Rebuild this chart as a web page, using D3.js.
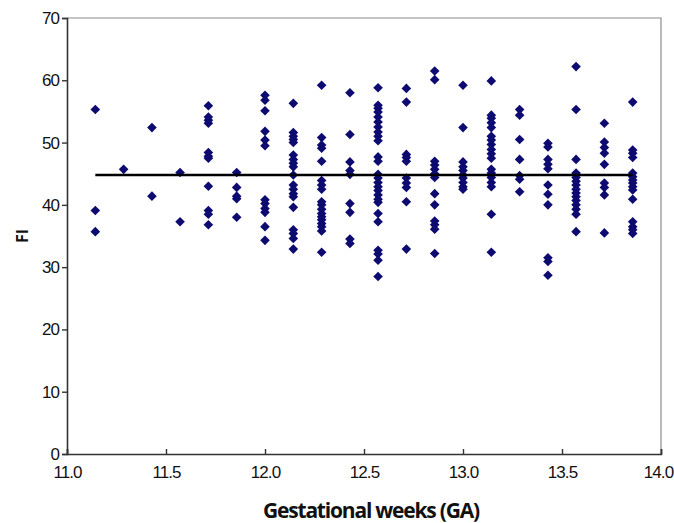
<!DOCTYPE html>
<html>
<head>
<meta charset="utf-8">
<script src="https://cdn.jsdelivr.net/npm/d3@7"></script>
<style>
  body { margin: 0; background: #fff; }
  svg text { font-family: "Liberation Sans", Arial, sans-serif; }
</style>
</head>
<body>
<div id="chart"></div>
<script>
// gestational age columns (weeks + days / 7)
var weeks = [11.143, 11.286, 11.429, 11.571, 11.714, 11.857, 12.0, 12.143, 12.286, 12.429,
             12.571, 12.714, 12.857, 13.0, 13.143, 13.286, 13.429, 13.571, 13.714, 13.857];

// FI values read per column
var fiValues = [
  [55.3, 39.1, 35.7],
  [45.7],
  [52.4, 41.4],
  [45.2, 37.3],
  [55.9, 54.1, 53.6, 53.1, 48.4, 47.8, 47.5, 43.0, 39.1, 38.5, 36.8],
  [45.2, 42.8, 41.4, 41.0, 38.0],
  [57.6, 56.8, 55.1, 51.8, 50.4, 49.5, 40.8, 40.2, 39.4, 38.8, 36.5, 34.3],
  [56.3, 51.6, 51.0, 50.5, 50.0, 48.0, 47.3, 46.7, 46.1, 44.8, 43.2, 42.5, 41.8, 41.3, 39.6, 36.0, 35.4, 34.6, 32.9],
  [59.2, 50.8, 49.6, 49.1, 47.0, 43.9, 43.2, 42.5, 40.5, 40.0, 39.3, 38.6, 38.1, 37.6, 37.0, 36.5, 35.8, 32.4],
  [58.0, 51.3, 46.9, 45.5, 44.9, 40.2, 38.8, 34.5, 33.8],
  [58.8, 56.0, 55.5, 54.9, 54.1, 53.3, 52.5, 51.7, 51.0, 50.3, 47.7, 47.0, 44.9, 44.3, 43.6, 42.9, 42.3, 41.6, 40.9, 40.4, 38.6, 37.3, 32.7, 32.1, 31.1, 28.5],
  [58.7, 56.5, 48.1, 47.6, 47.0, 44.3, 43.5, 42.8, 40.5, 32.9],
  [61.5, 60.1, 47.0, 46.4, 45.7, 45.0, 44.4, 41.8, 40.0, 37.4, 36.8, 36.1, 32.2],
  [59.2, 52.4, 46.9, 46.1, 45.5, 44.8, 44.3, 43.6, 42.9, 42.5],
  [59.9, 54.4, 53.9, 53.2, 52.4, 51.0, 50.4, 49.7, 48.9, 48.2, 47.5, 45.7, 45.1, 44.4, 43.6, 42.9, 38.5, 32.4],
  [55.3, 54.4, 50.5, 47.3, 44.7, 44.1, 42.1],
  [49.9, 49.3, 47.3, 46.5, 45.8, 43.2, 41.7, 40.0, 31.5, 30.9, 28.7],
  [62.2, 55.3, 47.3, 45.1, 44.4, 43.8, 43.2, 42.5, 41.9, 41.3, 40.7, 40.0, 39.3, 38.5, 35.7],
  [53.1, 50.1, 49.2, 48.3, 46.5, 43.5, 42.8, 41.6, 35.5],
  [56.5, 48.8, 48.3, 47.6, 45.1, 44.5, 44.0, 43.5, 42.9, 42.4, 40.9, 37.3, 36.5, 36.0, 35.4]
];

// fitted line (GA, FI)
var fitX = [11.143, 13.857];
var fitY = [44.8, 44.8];

var xTicks = [11.0, 11.5, 12.0, 12.5, 13.0, 13.5, 14.0];
var yTicks = [0, 10, 20, 30, 40, 50, 60, 70];

(function () {
var W = 674, H = 523,
    padL = 67, padR = 661, padT = 18, padB = 454;

var svg = d3.select('#chart').append('svg')
    .attr('width', W)
    .attr('height', H);

var x = d3.scaleLinear().domain([11, 14]).range([padL, padR]);
var y = d3.scaleLinear().domain([0, 70]).range([padB, padT]);

// frame top/right in gray
svg.append('path')
    .attr('d', 'M' + padL + ',' + padT + 'H' + padR + 'V' + padB)
    .attr('fill', 'none')
    .attr('stroke', '#8c8c8c')
    .attr('stroke-width', 1.2);

// y axis
var yAxis = svg.append('g')
    .attr('transform', 'translate(' + padL + ',0)')
    .call(d3.axisLeft(y).tickValues(yTicks).tickSize(5).tickPadding(3).tickFormat(d3.format('d')));
// x axis, ticks pointing inside
var xAxis = svg.append('g')
    .attr('transform', 'translate(0,' + padB + ')')
    .call(d3.axisBottom(x).tickValues(xTicks).tickSize(-5).tickPadding(15).tickFormat(d3.format('.1f')));

[xAxis, yAxis].forEach(function(g) {
    g.select('.domain').attr('stroke', '#333').attr('stroke-width', 1.6);
    g.selectAll('.tick line').attr('stroke', '#333').attr('stroke-width', 1.4);
    g.selectAll('.tick text')
        .attr('fill', '#111')
        .style('font-size', '17px')
        .style('letter-spacing', '-0.9px');
});
xAxis.selectAll('.tick text').attr('dy', '0.5em');
// keep the last label inside the window
xAxis.selectAll('.tick text').filter(function(d) { return d === 14; }).attr('x', -3);

// points
var points = [];
weeks.forEach(function(w, i) {
    fiValues[i].forEach(function(v) { points.push({x: w, y: v}); });
});

svg.append('g').selectAll('path')
    .data(points)
    .enter().append('path')
    .attr('d', d3.symbol().type(d3.symbolSquare).size(46))
    .attr('transform', function(d) {
        return 'translate(' + x(d.x) + ',' + y(d.y) + ') rotate(45)';
    })
    .attr('fill', '#0d0a70');

// fitted line
var lineFunction = d3.line()
    .x(function(d) { return x(d[0]); })
    .y(function(d) { return y(d[1]); });

svg.append('path')
    .attr('d', lineFunction(d3.zip(fitX, fitY)))
    .attr('stroke', '#000')
    .attr('stroke-width', 2.6)
    .attr('fill', 'none');

// axis titles
svg.append('text')
    .attr('x', 371)
    .attr('y', 518)
    .attr('text-anchor', 'middle')
    .style('font-family', '"Open Sans", sans-serif')
    .style('font-weight', 'bold')
    .style('font-size', '21px')
    .style('letter-spacing', '-1.2px')
    .attr('fill', '#111')
    .text('Gestational weeks (GA)');

svg.append('text')
    .attr('transform', 'translate(28,' + y(35) + ') rotate(-90)')
    .attr('text-anchor', 'middle')
    .style('font-family', '"Open Sans", sans-serif')
    .style('font-weight', 'bold')
    .style('font-size', '16px')
    .attr('fill', '#111')
    .text('FI');
})();
</script>
</body>
</html>
